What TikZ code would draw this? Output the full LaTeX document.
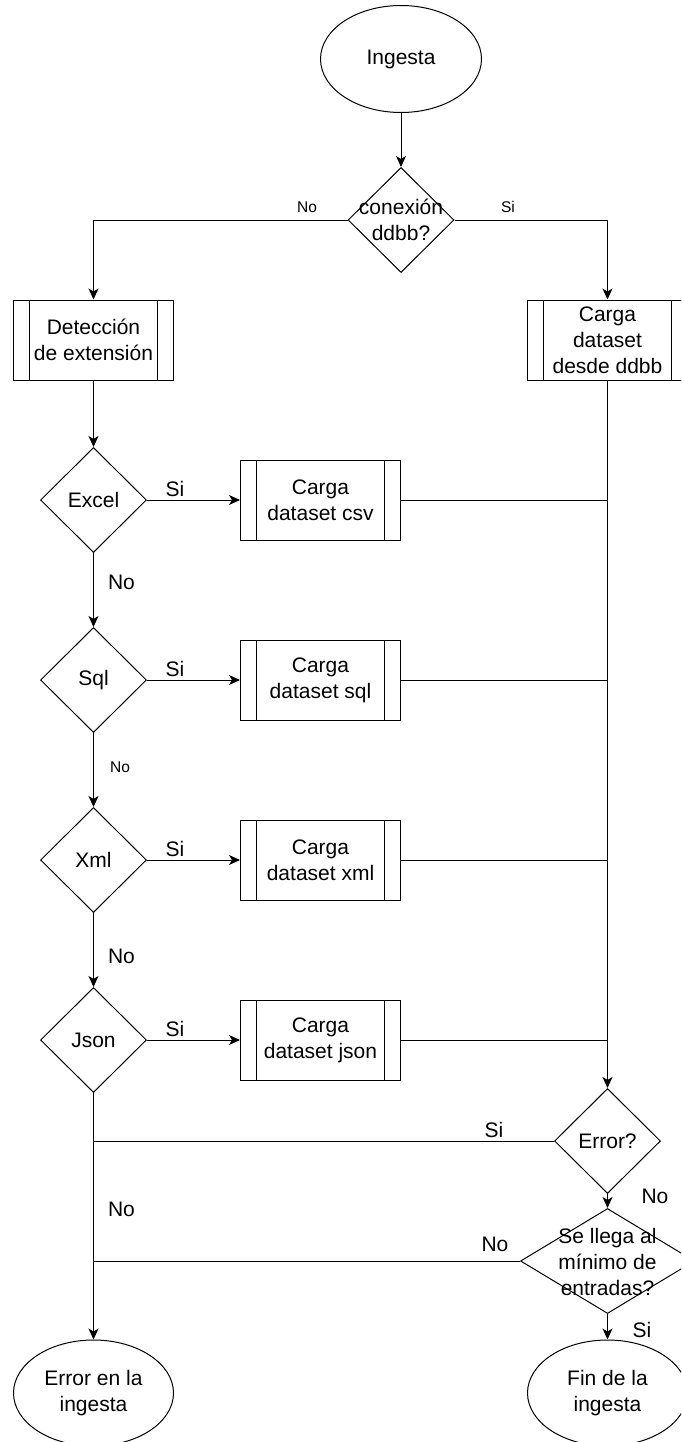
\documentclass[tikz,border=0pt]{standalone}
\usepackage{fontspec}
\setmainfont{Liberation Sans}
\usetikzlibrary{shapes.geometric,arrows.meta}
\begin{document}
\begin{tikzpicture}[x=1pt,y=-1pt,
  every node/.style={font=\fontsize{21}{26}\selectfont, text=black},
  >={Stealth[length=11pt,width=10pt,inset=3pt]},
  conn/.style={line width=1pt, draw=black},
  ell/.style={draw, ellipse, line width=1pt, inner sep=0pt, minimum width=161pt, minimum height=107pt, align=center},
  dia/.style={draw, diamond, line width=1pt, inner sep=0pt, minimum width=106pt, minimum height=105pt},
  proc/.style={draw, rectangle, line width=1pt, minimum width=160pt, minimum height=80pt, align=center, inner sep=1pt,
     path picture={
       \draw[line width=1pt] ([xshift=16pt]path picture bounding box.north west) -- ([xshift=16pt]path picture bounding box.south west);
       \draw[line width=1pt] ([xshift=-16pt]path picture bounding box.north east) -- ([xshift=-16pt]path picture bounding box.south east);}},
  txt/.style={align=center, inner sep=0pt},
  lbl/.style={inner sep=0pt},
  slbl/.style={inner sep=0pt, font=\fontsize{15.5}{18}\selectfont}]
\clip (0,0) rectangle (681,1442);
% nodes
\node[ell] (ing) at (401,59) {Ingesta};
\node[dia] (con) at (401,220) {};
\node[txt] (cont) at (401,220) {conexión\\ddbb?};
\node[proc] (det) at (93.5,340) {Detección\\de extensión};
\node[proc] (ddbb) at (607.5,340) {Carga\\dataset\\desde ddbb};

\node[dia] (exc) at (93.5,500) {};
\node[txt] (exct) at (93.5,500) {Excel};
\node[proc] (csv) at (320.5,500) {Carga\\dataset csv};

\node[dia] (sql) at (93.5,680) {};
\node[txt] (sqlt) at (93.5,680) {Sql};
\node[proc] (sqlb) at (320.5,680) {Carga\\dataset sql};

\node[dia] (xml) at (93.5,860) {};
\node[txt] (xmlt) at (93.5,860) {Xml};
\node[proc] (xmlb) at (320.5,860) {Carga\\dataset xml};

\node[dia] (json) at (93.5,1040) {};
\node[txt] (jsont) at (93.5,1040) {Json};
\node[proc] (jsonb) at (320.5,1040) {Carga\\dataset json};

\node[dia] (err) at (607.5,1141) {};
\node[txt] (errt) at (607.5,1141) {Error?};
\node[dia, minimum width=174pt] (sl) at (607.5,1261) {};
\node[txt] (slt) at (607.5,1262) {Se llega al\\mínimo de\\entradas?};

\node[ell, minimum width=160pt, minimum height=106pt] (errend) at (93.5,1393) {Error en la\\ingesta};
\node[ell, minimum width=160pt, minimum height=106pt] (fin) at (607.5,1393) {Fin de la\\ingesta};

% connectors
\draw[conn,->] (ing) -- (con);
\draw[conn,->] (con.west) -| (det.north);
\draw[conn,->] (con.east) -| (ddbb.north);
\draw[conn,->] (det) -- (exc);
\draw[conn,->] (exc) -- (csv);
\draw[conn,->] (exc) -- (sql);
\draw[conn,->] (sql) -- (sqlb);
\draw[conn,->] (sql) -- (xml);
\draw[conn,->] (xml) -- (xmlb);
\draw[conn,->] (xml) -- (json);
\draw[conn,->] (json) -- (jsonb);
\draw[conn,->] (json) -- (errend);
\draw[conn,->] (ddbb) -- (err);
\draw[conn] (csv.east) -- (csv.east -| ddbb.south);
\draw[conn] (sqlb.east) -- (sqlb.east -| ddbb.south);
\draw[conn] (xmlb.east) -- (xmlb.east -| ddbb.south);
\draw[conn] (jsonb.east) -- (jsonb.east -| ddbb.south);
\draw[conn] (err.west) -- (err.west -| json.south);
\draw[conn,->] (err) -- (sl);
\draw[conn] (sl.west) -- (sl.west -| json.south);
\draw[conn,->] (sl) -- (fin);

% labels
\node[slbl] (lno0) at (307,207) {No};
\node[slbl] (lsi0) at (508,207) {Si};
\node[lbl] (lsi1) at (175,489) {Si};
\node[lbl] (lno1) at (121.5,582) {No};
\node[lbl] (lsi2) at (175,669) {Si};
\node[slbl] (lno2) at (120,767) {No};
\node[lbl] (lsi3) at (175,849) {Si};
\node[lbl] (lno3) at (121.5,956) {No};
\node[lbl] (lsi4) at (175,1029) {Si};
\node[lbl] (lno4) at (121.5,1209) {No};
\node[lbl] (lsi5) at (494,1130) {Si};
\node[lbl] (lno5) at (655,1196) {No};
\node[lbl] (lno6) at (495,1244) {No};
\node[lbl] (lsi6) at (642,1330) {Si};
\end{tikzpicture}
\end{document}
